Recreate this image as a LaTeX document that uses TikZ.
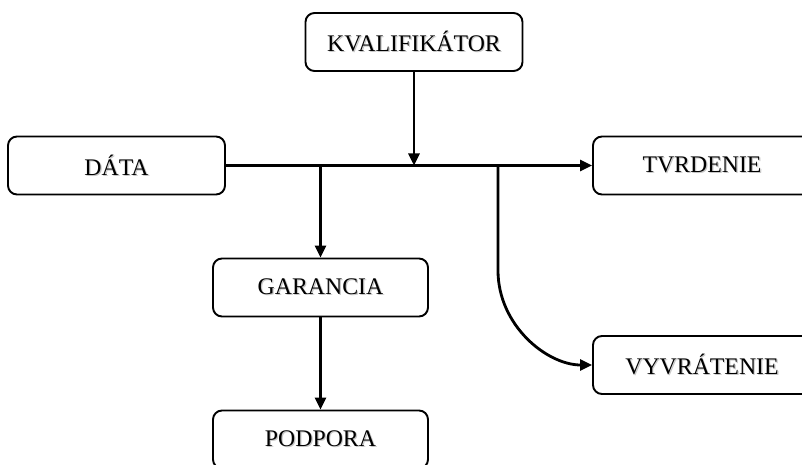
\documentclass[tikz,border=0pt]{standalone}
\usepackage{fontspec}
\setmainfont{Liberation Serif}
\usetikzlibrary{arrows.meta}
\newcommand\shtxt[1]{\rlap{\kern1.2pt\raisebox{-1.2pt}{\textcolor{black!22}{#1}}}#1}
\begin{document}
\begin{tikzpicture}[x=1pt,y=-1pt,
  box/.style={draw=black,line width=1.9pt,rounded corners=9pt,fill=white,
    minimum width=217pt,minimum height=58pt,inner sep=0pt,
    font=\fontsize{23.8}{28}\selectfont},
  conn/.style={line width=2.8pt,-{Triangle[length=12pt,width=11pt]}}]
\useasboundingbox (0,0) rectangle (802,465);
\node[box] (kval) at (414,42) {\shtxt{KVALIFIKÁTOR}};
\node[box] (data) at (116.5,165.5) {\shtxt{DÁTA}};
\node[box,minimum width=218pt] (tvrd) at (702,165.5) {\shtxt{TVRDENIE}};
\node[box,minimum width=215pt] (gar) at (320.5,287.5) {\shtxt{GARANCIA}};
\node[box,minimum width=218pt] (vyv) at (702,365) {\shtxt{VYVRÁTENIE}};
\node[box,minimum width=215pt] (pod) at (320.5,439.5) {\shtxt{PODPORA}};
\coordinate (br) at (498,165.5);
\draw[conn] (data.east) -- (tvrd.west);
\draw[conn] (kval.south) -- (kval.south |- data.east);
\draw[conn] (gar.north |- data.east) -- (gar.north);
\draw[conn] (gar.south) -- (pod.north);
\draw[conn] (br) -- ++(0,105) .. controls +(0,55) and +(-45,0) .. (vyv.west);
\end{tikzpicture}
\end{document}
